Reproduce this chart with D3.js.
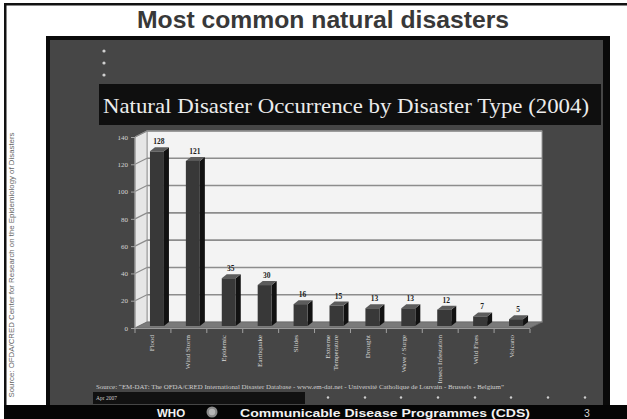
<!DOCTYPE html>
<html><head><meta charset="utf-8">
<script src="https://cdn.jsdelivr.net/npm/d3@7/dist/d3.min.js"></script>
<style>html,body{margin:0;padding:0;background:#fff;overflow:hidden}svg{display:block}</style>
</head><body>
<script>
const categories = ["Flood","Wind Storm","Epidemic","Earthquake","Slides","Extreme\nTemperature","Drought","Wave / Surge","Insect Infestation","Wild Fires","Volcano"];
const values = [128,121,35,30,16,15,13,13,12,7,5];
const yTicks = [0,20,40,60,80,100,120,140];
const pageTitle = "Most common natural disasters";
const chartTitle = "Natural Disaster Occurrence by Disaster Type (2004)";
const sourceNote = "Source: \u201CEM-DAT: The OFDA/CRED International Disaster Database - www.em-dat.net - Universit\u00e9 Catholique de Louvain - Brussels - Belgium\u201D";
const dateNote = "Apr 2007";
const sideNote = "Source: OFDA/CRED Center for Research on the Epidemiology of Disasters";
const footerLeft = "WHO";
const footerMid = "Communicable Disease Programmes (CDS)";
const footerPage = "3";

const W = 627, H = 419;
const SERIF = "'Liberation Serif','DejaVu Serif','Times New Roman',serif";
const SANS = "'Liberation Sans',Arial,'DejaVu Sans',sans-serif";
const svg = d3.select("body").append("svg").attr("width", W).attr("height", H);

// page frame
svg.append("rect").attr("width", W).attr("height", H).attr("fill", "#fff");
svg.append("rect").attr("x", 4).attr("y", 3).attr("width", W - 4).attr("height", 2.5).attr("fill", "#111");
svg.append("rect").attr("x", 4).attr("y", 3).attr("width", 2.5).attr("height", H - 3).attr("fill", "#111");

svg.append("text").attr("x", 323).attr("y", 28).attr("text-anchor", "middle")
  .attr("font-family", SANS).attr("font-weight", "bold").attr("font-size", 24)
  .attr("fill", "#383838").attr("textLength", 372).attr("lengthAdjust", "spacingAndGlyphs").text(pageTitle);

// side note
svg.append("text").attr("transform", "translate(14,265) rotate(-90)")
  .attr("text-anchor", "middle").attr("font-family", SANS).attr("font-size", 7.5)
  .attr("fill", "#666").attr("textLength", 265).attr("lengthAdjust", "spacingAndGlyphs")
  .text(sideNote);

// dark panel
svg.append("rect").attr("x", 48).attr("y", 38).attr("width", 558).attr("height", 370)
  .attr("fill", "#464646").attr("stroke", "#0a0a0a").attr("stroke-width", 4);
svg.append("rect").attr("x", 603).attr("y", 36).attr("width", 7).attr("height", 372).attr("fill", "#0a0a0a");

// bullet dots
[51, 63, 75].forEach(cy => svg.append("circle").attr("cx", 104).attr("cy", cy).attr("r", 1.6).attr("fill", "#d0d0d0"));

// chart title box
svg.append("rect").attr("x", 99).attr("y", 84).attr("width", 502).attr("height", 41).attr("fill", "#0f0f0f");
svg.append("text").attr("x", 103).attr("y", 113).attr("font-family", SERIF).attr("font-size", 21)
  .attr("fill", "#ececec").attr("textLength", 486).attr("lengthAdjust", "spacingAndGlyphs").text(chartTitle);

// 3D plot geometry
const DX = 12, DY = 6; // depth offset (front = back shifted by -DX,+DY)
const x = d3.scaleBand().domain(categories).range([135, 530]).padding(0);
const y = d3.scaleLinear().domain([0, 140]).range([322, 131]); // back wall
const xL = x.range()[0], xR = x.range()[1];

// back wall
svg.append("rect").attr("x", xL + DX).attr("y", y(140)).attr("width", xR - xL).attr("height", y(0) - y(140))
  .attr("fill", "#f3f3f3").attr("stroke", "#9a9a9a").attr("stroke-width", 1);
// left side wall
svg.append("path").attr("d", `M${xL},${y(140)+DY}L${xL+DX},${y(140)}L${xL+DX},${y(0)}L${xL},${y(0)+DY}Z`)
  .attr("fill", "#e6e6e6").attr("stroke", "#9a9a9a").attr("stroke-width", 1);

// gridlines
yTicks.filter(t => t > 0).forEach(t => {
  svg.append("line").attr("x1", xL + DX).attr("x2", xR + DX).attr("y1", y(t)).attr("y2", y(t))
    .attr("stroke", "#8c8c8c").attr("stroke-width", 1.6);
  svg.append("line").attr("x1", xL).attr("x2", xL + DX).attr("y1", y(t) + DY).attr("y2", y(t))
    .attr("stroke", "#8c8c8c").attr("stroke-width", 1.2);
});

// floor
svg.append("path").attr("d", `M${xL},${y(0)+DY}L${xL+DX},${y(0)}L${xR+DX},${y(0)}L${xR},${y(0)+DY}Z`)
  .attr("fill", "#7a7a7a").attr("stroke", "#6a6a6a").attr("stroke-width", 0.8);
svg.append("line").attr("x1", xL).attr("x2", xR).attr("y1", y(0) + DY + 0.5).attr("y2", y(0) + DY + 0.5)
  .attr("stroke", "#9a9a9a").attr("stroke-width", 1);

// y axis (front edge)
svg.append("line").attr("x1", xL).attr("x2", xL).attr("y1", y(140) + DY).attr("y2", y(0) + DY)
  .attr("stroke", "#9a9a9a").attr("stroke-width", 1);
const yAxis = svg.append("g").attr("transform", `translate(${xL},${DY})`)
  .call(d3.axisLeft(y).tickValues(yTicks).tickSize(4).tickPadding(3).tickFormat(d3.format("d")));
yAxis.select(".domain").remove();
yAxis.selectAll("line").attr("stroke", "#a0a0a0");
yAxis.selectAll("text").attr("font-family", SERIF).attr("font-size", 7).attr("fill", "#d4d4d4");

// x axis ticks (band boundaries)
const bounds = categories.map(c => x(c)).concat([xR]);
svg.append("g").selectAll("line").data(bounds).join("line")
  .attr("x1", d => d).attr("x2", d => d).attr("y1", y(0) + DY + 1).attr("y2", y(0) + DY + 5)
  .attr("stroke", "#a0a0a0").attr("stroke-width", 1);

// bars
const bw = 14, bdx = 5, bdy = 4, offX = 4, offY = -2;
const bars = svg.append("g").selectAll("g").data(categories.map((c, i) => ({c, v: values[i]}))).join("g");
bars.each(function(d) {
  const g = d3.select(this);
  const x0 = x(d.c) + x.bandwidth() / 2 + offX - bw / 2;
  const x1 = x0 + bw;
  const yb = y(0) + DY + offY;
  const yt = y(d.v) + DY + offY;
  g.append("path").attr("d", `M${x1},${yb}L${x1+bdx},${yb-bdy}L${x1+bdx},${yt-bdy}L${x1},${yt}Z`).attr("fill", "#121212");
  g.append("path").attr("d", `M${x0},${yt}L${x0+bdx},${yt-bdy}L${x1+bdx},${yt-bdy}L${x1},${yt}Z`).attr("fill", "#5c5c5c");
  g.append("rect").attr("x", x0).attr("y", yt).attr("width", bw).attr("height", yb - yt).attr("fill", "#383838");
  g.append("text").attr("x", x0 + bw / 2 + 2).attr("y", yt - bdy - 3).attr("text-anchor", "middle")
    .attr("font-family", SERIF).attr("font-weight", "bold").attr("font-size", 7.5).attr("fill", "#1e1e1e").text(d.v);
});

// x labels (rotated)
categories.forEach(c => {
  const lines = c.split("\n");
  const cx = x(c) + x.bandwidth() / 2 - 1;
  lines.forEach((ln, j) => {
    const lx = cx + (j - (lines.length - 1) / 2) * 8 + 2.5;
    svg.append("text").attr("transform", `translate(${lx},${y(0) + DY + 7}) rotate(-90)`)
      .attr("text-anchor", "end").attr("font-family", SERIF).attr("font-size", 7)
      .attr("fill", "#d8d8d8").text(ln);
  });
});

// source line
svg.append("text").attr("x", 96).attr("y", 389).attr("font-family", SERIF).attr("font-size", 5.5)
  .attr("fill", "#cfcfcf").attr("textLength", 408).attr("lengthAdjust", "spacingAndGlyphs").text(sourceNote);
svg.append("rect").attr("x", 93).attr("y", 392).attr("width", 212).attr("height", 12).attr("fill", "#111");
svg.append("text").attr("x", 96).attr("y", 400).attr("font-family", SERIF).attr("font-size", 5.5)
  .attr("fill", "#cfcfcf").text(dateNote);
[328, 365, 401, 438, 475, 511, 548, 585].forEach(cx =>
  svg.append("circle").attr("cx", cx).attr("cy", 397.5).attr("r", 1.2).attr("fill", "#cfcfcf"));

// footer
svg.append("rect").attr("x", 4).attr("y", 405).attr("width", W - 4).attr("height", H - 405).attr("fill", "#050505");
svg.append("text").attr("x", 157).attr("y", 416.5).attr("font-family", SANS).attr("font-weight", "bold")
  .attr("font-size", 11.5).attr("fill", "#f2f2f2").text(footerLeft);
svg.append("circle").attr("cx", 212).attr("cy", 412).attr("r", 5.5).attr("fill", "#8a8a8a");
svg.append("circle").attr("cx", 212).attr("cy", 412).attr("r", 3.2).attr("fill", "#b5b5b5");
svg.append("text").attr("x", 240).attr("y", 416.5).attr("font-family", SANS).attr("font-weight", "bold")
  .attr("font-size", 11.5).attr("fill", "#f2f2f2").attr("textLength", 290).attr("lengthAdjust", "spacingAndGlyphs").text(footerMid);
svg.append("text").attr("x", 584).attr("y", 416.5).attr("font-family", SANS)
  .attr("font-size", 10.5).attr("fill", "#cfcfcf").text(footerPage);
</script>
</body></html>
